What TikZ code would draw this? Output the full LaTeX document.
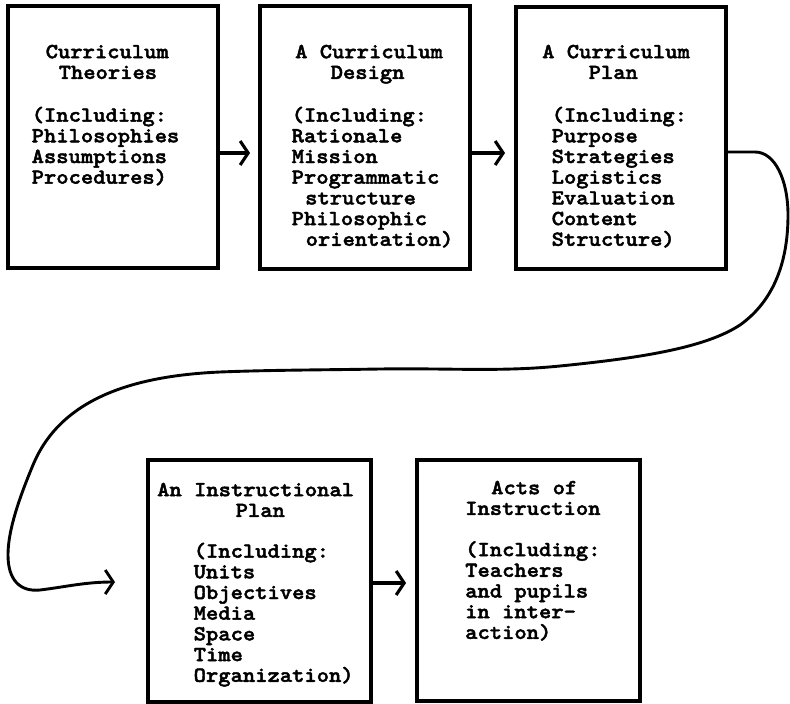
\documentclass[tikz,border=0pt]{standalone}
\usepackage{fontspec}
\newfontfamily\tw{lmmonolt10-bold.otf}[FakeStretch=1.09,FakeBold=2]
\usetikzlibrary{arrows.meta}
\begin{document}
\begin{tikzpicture}[x=1pt,y=-1pt,
  box/.style={draw, line width=3.1pt, rectangle, inner sep=0pt, outer sep=0pt, anchor=north west},
  txt/.style={anchor=north west, inner sep=0pt, align=left, font=\tw\fontsize{21.5}{20.7}\selectfont},
  arr/.style={line width=3.1pt, -{Straight Barb[length=8pt,width=24pt]}},
  curve/.style={line width=2.9pt, line cap=round, line join=round, -{Straight Barb[length=8pt,width=24pt]}}
]
\useasboundingbox (0,0) rectangle (790,704);
% boxes
\node[box, minimum width=210pt, minimum height=262pt] (b1) at (8,6) {};
\node[box, minimum width=210pt, minimum height=263pt] (b2) at (260,6) {};
\node[box, minimum width=210pt, minimum height=262pt] (b3) at (516,7) {};
\node[box, minimum width=223pt, minimum height=242pt] (b4) at (148,460) {};
\node[box, minimum width=223pt, minimum height=241pt] (b5) at (417,460) {};
% texts
\node[txt] (t1) at (31.5,40) {\rule{0pt}{18pt}\hspace*{14pt}Curriculum\\\hspace*{27pt}Theories\\[22pt]
(Including:\\Philosophies\\Assumptions\\Procedures)};
\node[txt] (t2) at (291.5,40) {\rule{0pt}{18pt}\hspace*{3.5pt}A Curriculum\\\hspace*{39pt}Design\\[22pt]
(Including:\\Rationale\\Mission\\Programmatic\\\hspace*{13.5pt}structure\\Philosophic\\\hspace*{14pt}orientation)};
\node[txt] (t3) at (542,40) {\rule{0pt}{18pt}A Curriculum\\\hspace*{46.5pt}Plan\\[22pt]
\hspace*{9.5pt}(Including:\\\hspace*{9.5pt}Purpose\\\hspace*{9.5pt}Strategies\\\hspace*{9.5pt}Logistics\\\hspace*{9.5pt}Evaluation\\\hspace*{9.5pt}Content\\\hspace*{9.5pt}Structure)};
\node[txt] (t4) at (157,478) {\rule{0pt}{18pt}An Instructional\\\hspace*{78.5pt}Plan\\[20pt]
\hspace*{36.5pt}(Including:\\\hspace*{36.5pt}Units\\\hspace*{36.5pt}Objectives\\\hspace*{36.5pt}Media\\\hspace*{36.5pt}Space\\\hspace*{36.5pt}Time\\\hspace*{36.5pt}Organization)};
\node[txt] (t5) at (465,476) {\rule{0pt}{18pt}\hspace*{26pt}Acts of\\Instruction\\[20.5pt]
(Including:\\Teachers\\and pupils\\in inter-\\action)};
% connectors
\draw[arr, shorten >=10pt] ([yshift=-16pt]b1.east) -- ([yshift=-16pt]b1.east -| b2.west);
\draw[arr, shorten >=11pt] ([yshift=-15.5pt]b2.east) -- ([yshift=-15.5pt]b2.east -| b3.west);
\draw[arr, shorten >=11pt] ([yshift=-2pt]b4.east) -- ([yshift=-2pt]b4.east -| b5.west);
\coordinate (tip4) at (115,582);
\draw[curve] ([yshift=-14pt]b3.east) -- (755,152)
  .. controls (775,152) and (788,180) .. (788,215)
  .. controls (788,260) and (775,300) .. (740,325)
  .. controls (705,348) and (640,358) .. (560,366)
  .. controls (500,372) and (450,368) .. (380,369)
  .. controls (320,370) and (270,370) .. (220,372)
  .. controls (130,376) and (60,400) .. (33,465)
  .. controls (15,508) and (8,535) .. (8,555)
  .. controls (8,580) and (20,592) .. (40,590)
  .. controls (65,587) and (85,582) .. (tip4);
\end{tikzpicture}
\end{document}
